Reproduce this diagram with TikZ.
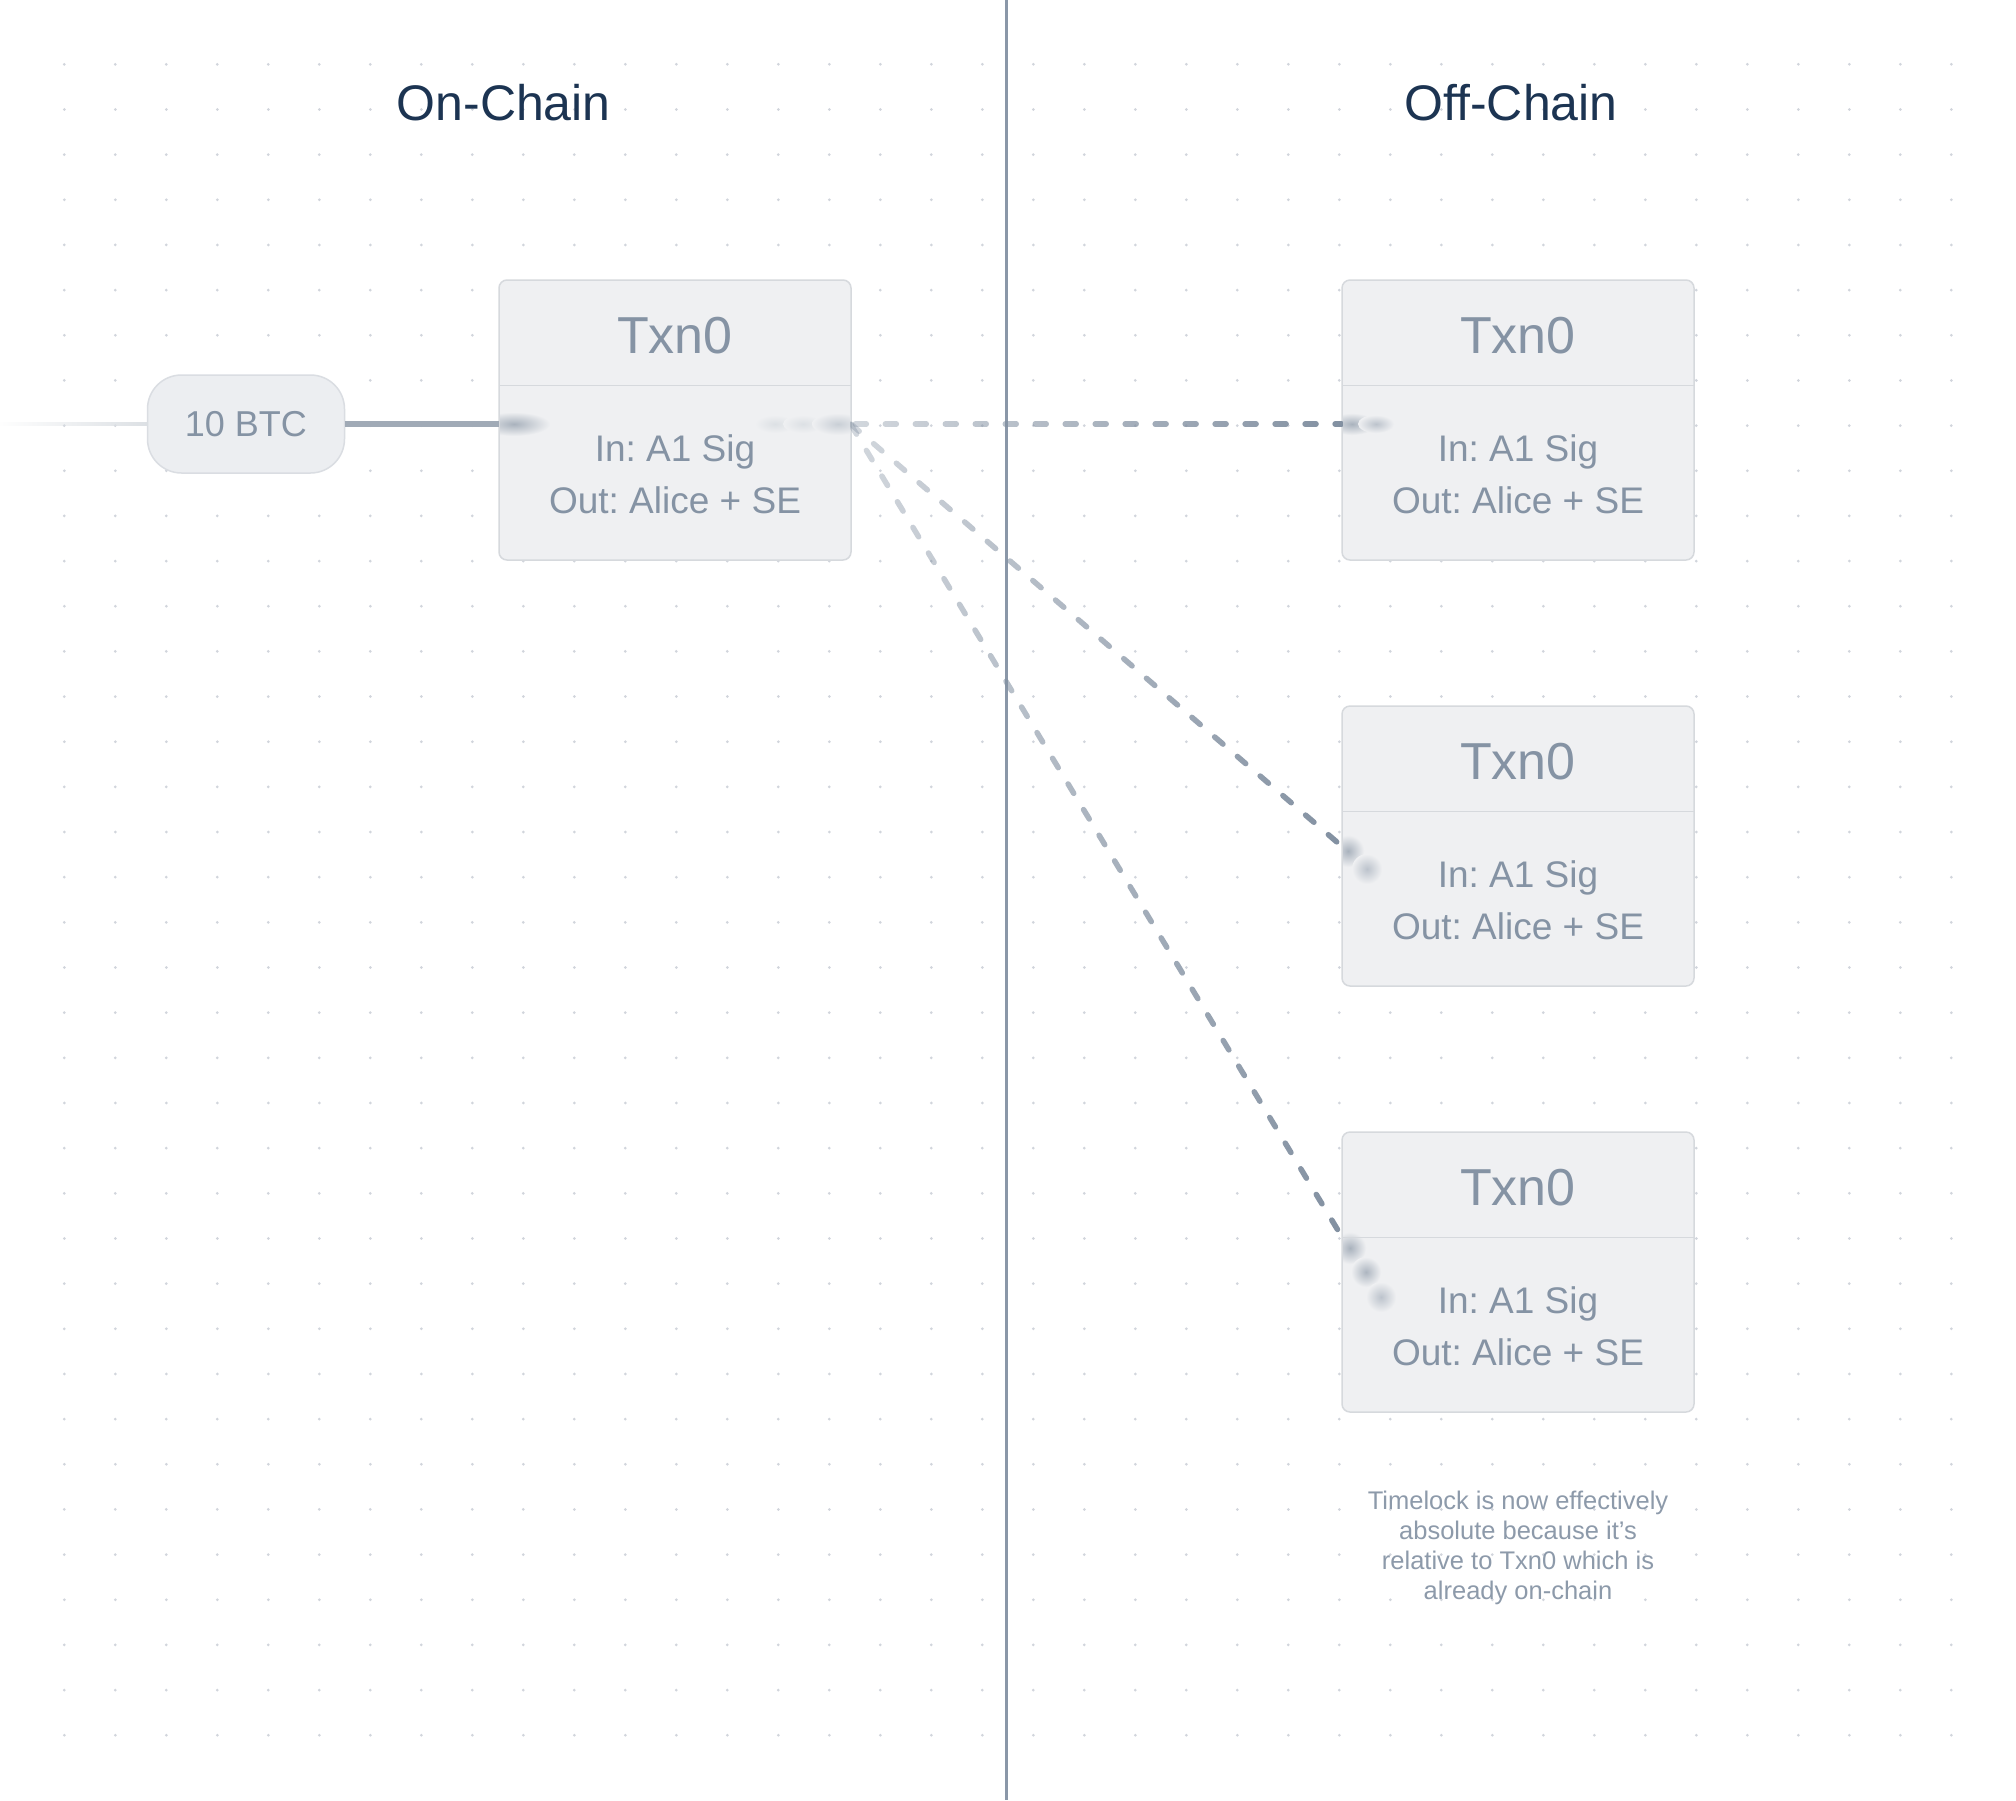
\documentclass[tikz,border=0pt]{standalone}
\usepackage{fontspec}
\setmainfont{Liberation Sans}
\usetikzlibrary{fadings}
\frenchspacing
\definecolor{dotc}{HTML}{D1D5DC}
\definecolor{titlec}{HTML}{1C3452}
\definecolor{boxfill}{HTML}{EFF0F2}
\definecolor{boxline}{HTML}{D6D9DD}
\definecolor{txtc}{HTML}{8593A4}
\definecolor{vlinec}{HTML}{8A97A8}
\definecolor{dashc}{HTML}{8290A1}
\definecolor{solidc}{HTML}{A0AAB6}
\definecolor{fadec}{HTML}{DCE0E4}
\definecolor{notec}{HTML}{8D9AAA}
\definecolor{pillfill}{HTML}{ECEEF1}
\definecolor{pillline}{HTML}{DADDE2}
\definecolor{blobA}{HTML}{A9B2BD}
\definecolor{blobB}{HTML}{BCC3CC}
\definecolor{blobC}{HTML}{DCE0E4}
\tikzfading[name=conntofade, left color=transparent!65, right color=transparent!0]
\tikzfading[name=leftfade, left color=transparent!100, right color=transparent!0]
\begin{document}
\begin{tikzpicture}[x=1pt,y=-1pt,
  txbox/.style={draw=boxline, line width=1.5pt, fill=boxfill, rounded corners=8pt,
    minimum width=352pt, minimum height=280pt, inner sep=0pt, outer sep=0pt},
  divider/.style={draw=boxline, line width=1.5pt},
  hdr/.style={text=txtc, font=\fontsize{52}{60}\selectfont, anchor=base, inner sep=0pt},
  body/.style={text=txtc, font=\fontsize{37}{42}\selectfont, anchor=base, inner sep=0pt},
  title/.style={text=titlec, font=\fontsize{50}{60}\selectfont, anchor=base, inner sep=0pt},
  pill/.style={draw=pillline, line width=1.5pt, fill=pillfill, rounded corners=34pt,
    minimum width=197pt, minimum height=98pt, inner sep=0pt, outer sep=0pt,
    text=txtc, font=\fontsize{36}{42}\selectfont},
  dconn/.style={draw=dashc, line width=5.5pt, line cap=round, dash pattern=on 11pt off 19pt,
    path fading=conntofade},
  solidconn/.style={draw=solidc, line width=5.5pt},
  fadeconn/.style={draw=fadec, line width=4pt, path fading=leftfade},
  vdiv/.style={draw=vlinec, line width=3pt},
  note/.style={text=notec, font=\fontsize{25.5}{30}\selectfont, align=center, inner sep=0pt}
]
\useasboundingbox (0,0) rectangle (2016,1800);
\fill[white] (0,0) rectangle (2016,1800);
% dot grid
\foreach \i in {0,...,37} {
  \foreach \j in {0,...,37} {
    \fill[dotc] (64.3+51*\i, 64.3+45.16*\j) circle (1.5pt);
  }
}
% divider line
\coordinate (vtop) at (1006.5,0);
\coordinate (vbot) at (1006.5,1800);
\draw[vdiv] (vtop) -- (vbot);
% titles
\node[title] (ton) at (503.7,120) {On-Chain};
\node[title] (toff) at (1511,120) {Off-Chain};
% pill
\node[pill] (btc) at (246,424) {10 BTC};
\coordinate (lstart) at (0,424);
% boxes (nodes)
\node[txbox] (t0) at (675,420) {};
\node[txbox] (t1) at (1518,420) {};
\node[txbox] (t2) at (1518,846) {};
\node[txbox] (t3) at (1518,1272) {};
% connectors
\draw[fadeconn] (lstart) -- (btc.west);
\draw[solidconn] (btc.east) -- ([yshift=-4pt]t0.west);
\draw[dconn, dash phase=25.5pt] ([yshift=-4pt]t0.east) -- ([yshift=-4pt]t1.west);
\draw[dconn] ([yshift=-4pt]t0.east) -- (t2.west);
\draw[dconn] ([yshift=-4pt]t0.east) -- ([yshift=36pt]t3.west);
% blurred line ends under the frosted boxes
\begin{scope}
  \clip ([shift={(1pt,-1pt)}]t0.north west) rectangle ([shift={(-1pt,1pt)}]t0.south east);
  \shade[inner color=blobA, outer color=boxfill] (514,424) ellipse (36pt and 12pt);
  \shade[inner color=blobC, outer color=boxfill] (775,424) ellipse (20pt and 9pt);
  \shade[inner color=blobC, outer color=boxfill] (803,424) ellipse (20pt and 9pt);
  \shade[inner color=blobB!60!blobC, outer color=boxfill] (838,424) ellipse (26pt and 11pt);
\end{scope}
\begin{scope}
  \clip ([shift={(1pt,-1pt)}]t1.north west) rectangle ([shift={(-1pt,1pt)}]t1.south east);
  \shade[inner color=blobA, outer color=boxfill] (1352,424) ellipse (24pt and 11pt);
  \shade[inner color=blobB, outer color=boxfill] (1376,424) ellipse (18pt and 9pt);
\end{scope}
\begin{scope}
  \clip ([shift={(1pt,-1pt)}]t2.north west) rectangle ([shift={(-1pt,1pt)}]t2.south east);
  \shade[inner color=blobA, outer color=boxfill] (1348,851) circle (16pt);
  \shade[inner color=blobB, outer color=boxfill] (1367,869) circle (15pt);
\end{scope}
\begin{scope}
  \clip ([shift={(1pt,-1pt)}]t3.north west) rectangle ([shift={(-1pt,1pt)}]t3.south east);
  \shade[inner color=blobA, outer color=boxfill] (1350,1248) circle (16pt);
  \shade[inner color=blobA!80!blobB, outer color=boxfill] (1366,1272) circle (15pt);
  \shade[inner color=blobB, outer color=boxfill] (1381,1297) circle (15pt);
\end{scope}
% dividers and texts
\foreach \b in {t0,t1,t2,t3} {
  \draw[divider] ([yshift=-105.5pt]\b.north west) -- ([yshift=-105.5pt]\b.north east);
  \node[hdr] (\b h) at ([yshift=-73pt]\b.north) {Txn0};
  \node[body] (\b i) at ([yshift=-181.5pt]\b.north) {In: A1 Sig};
  \node[body] (\b o) at ([yshift=-233pt]\b.north) {Out: Alice + SE};
}
% note
\node[note] (note) at (1518,1548) {Timelock is now effectively\\absolute because it’s\\relative to Txn0 which is\\already on-chain};
\end{tikzpicture}
\end{document}
